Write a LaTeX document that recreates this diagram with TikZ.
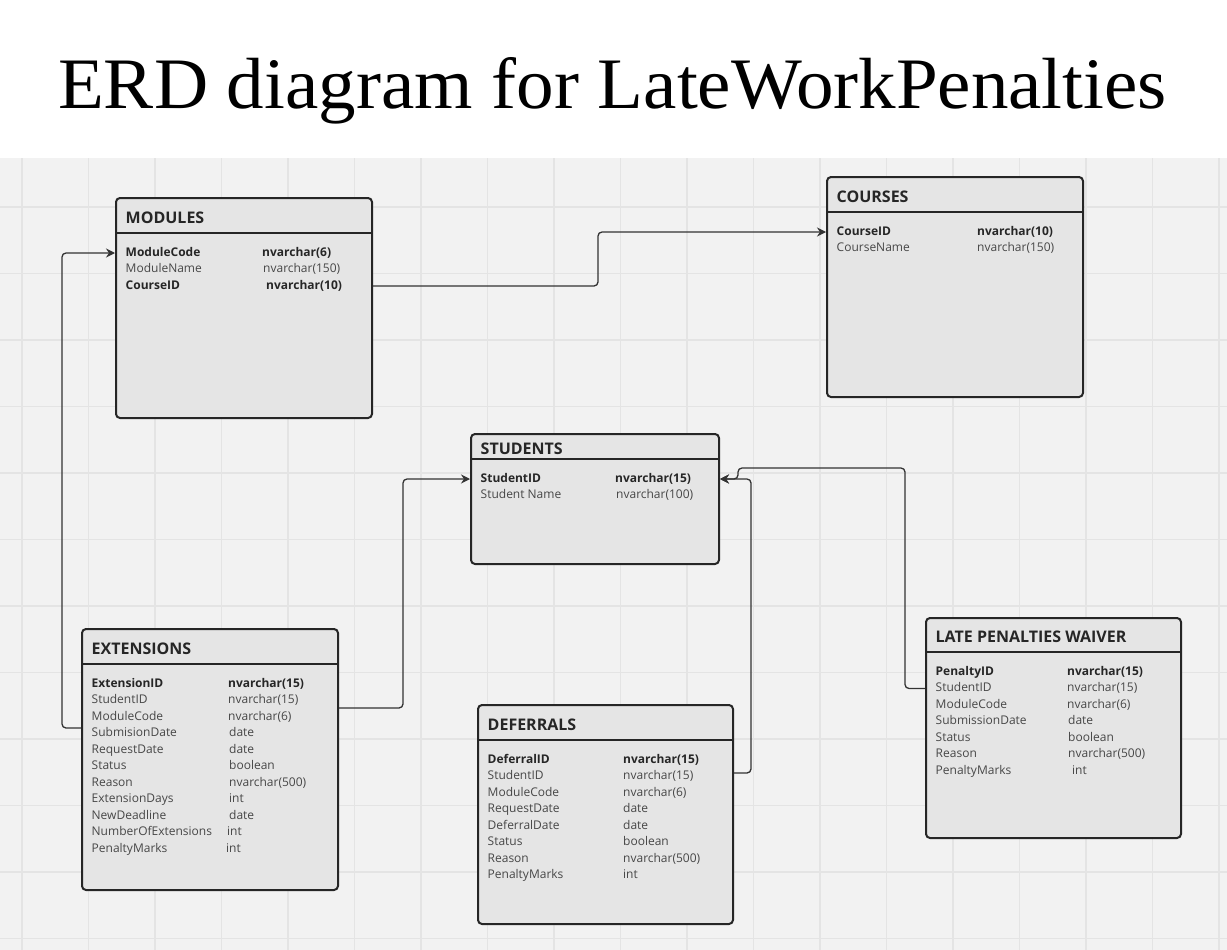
\documentclass[tikz,border=0pt]{standalone}
\usepackage{graphicx}
\usepackage{fontspec}
\setmainfont{Open Sans}
\newfontfamily\titlefont{Liberation Serif}
\usetikzlibrary{arrows.meta}
\definecolor{bgc}{HTML}{F2F2F2}
\definecolor{gridc}{HTML}{E4E4E4}
\definecolor{boxfill}{HTML}{E5E5E5}
\definecolor{boxline}{HTML}{262626}
\definecolor{boldc}{HTML}{262626}
\definecolor{regc}{HTML}{474747}
\definecolor{connc}{HTML}{333333}
\tikzset{
 tbl/.style={draw=boxline, line width=2pt, rounded corners=4pt, fill=boxfill, inner sep=0pt, anchor=north west},
 hdr/.style={draw=boxline, line width=2pt},
 ttl/.style={anchor=west, inner sep=0pt, text=boldc, font=\fontsize{16}{18}\selectfont\bfseries},
 fb/.style={anchor=west, inner sep=0pt, text=boldc, font=\fontsize{12}{14}\selectfont\bfseries, text height=9pt, text depth=3pt},
 fr/.style={anchor=west, inner sep=0pt, text=regc, font=\fontsize{12}{14}\selectfont, text height=9pt, text depth=3pt},
 conn/.style={draw=connc, line width=1.3pt, rounded corners=4pt, -{Stealth[length=9pt,width=9pt,inset=3pt]}},
 gridline/.style={draw=gridc, line width=1.5pt},
}
% #1 name, #2 left, #3 top, #4 width, #5 height, #6 header height, #7 title, #8 rows
\newcommand\erdtable[8]{%
 \node[tbl, minimum width=#4pt, minimum height=#5pt] (#1) at (#2,#3) {};
 \draw[hdr] ([yshift=-#6pt]#1.north west) -- ([yshift=-#6pt]#1.north east);
 \node[ttl] (#1-title) at ({#2+10.5},{#3+#6/2+2.5}) {#7};
 \foreach \fn/\ft/\fx/\fs [count=\i] in {#8} {
   \node[style=\fs] (#1-n\i) at ({#2+10.5},{#3+#6+20+(\i-1)*16.5}) {\fn};
   \node[style=\fs] (#1-t\i) at (\fx,{#3+#6+20+(\i-1)*16.5}) {\ft};
 }
}
\begin{document}
\begin{tikzpicture}[x=1pt,y=-1pt]
\useasboundingbox (0,0) rectangle (1227,950);
\fill[white] (0,0) rectangle (1227,158);
\fill[bgc] (0,158) rectangle (1227,950);
\foreach \k in {0,...,18} \draw[gridline] ({22+66.5*\k},158) -- ({22+66.5*\k},950);
\foreach \k in {0,...,11} \draw[gridline] (0,{207+66.5*\k}) -- (1227,{207+66.5*\k});

\node[anchor=base, inner sep=0pt] (title) at (612.5,108) {\scalebox{1.035}[1]{\titlefont\fontsize{72.5}{80}\selectfont ERD diagram for LateWorkPenalties}};

\erdtable{mod}{115}{197}{256}{220}{36}{MODULES}{ModuleCode/nvarchar(6)/262/fb, ModuleName/nvarchar(150)/263/fr, CourseID/nvarchar(10)/266/fb}
\erdtable{crs}{826}{176}{256}{220}{36}{COURSES}{CourseID/nvarchar(10)/977/fb, CourseName/nvarchar(150)/977/fr}
\erdtable{stu}{470}{433}{248}{130}{26}{STUDENTS}{StudentID/nvarchar(15)/615/fb, Student Name/nvarchar(100)/616/fr}
\erdtable{ext}{81}{628}{256}{261}{36}{EXTENSIONS}{ExtensionID/nvarchar(15)/228/fb, StudentID/nvarchar(15)/228/fr, ModuleCode/nvarchar(6)/228/fr, SubmisionDate/date/229/fr, RequestDate/date/229/fr, Status/boolean/229/fr, Reason/nvarchar(500)/229/fr, ExtensionDays/int/229/fr, NewDeadline/date/229/fr, NumberOfExtensions/int/227/fr, PenaltyMarks/int/226/fr}
\erdtable{def}{477}{704}{255}{219}{36}{DEFERRALS}{DeferralID/nvarchar(15)/623/fb, StudentID/nvarchar(15)/623/fr, ModuleCode/nvarchar(6)/623/fr, RequestDate/date/623/fr, DeferralDate/date/623/fr, Status/boolean/623/fr, Reason/nvarchar(500)/623/fr, PenaltyMarks/int/623/fr}
\erdtable{lpw}{925}{617}{255}{220}{35}{LATE PENALTIES WAIVER}{PenaltyID/nvarchar(15)/1067/fb, StudentID/nvarchar(15)/1067/fr, ModuleCode/nvarchar(6)/1067/fr, SubmissionDate/date/1068/fr, Status/boolean/1068/fr, Reason/nvarchar(500)/1068/fr, PenaltyMarks/int/1072/fr}

\coordinate (xa) at (598,0);
\coordinate (xb) at (62,0);
\coordinate (xc) at (403,0);
\coordinate (xd) at (751,0);
\coordinate (xe) at (905,0);
\coordinate (xf) at (738,0);
\coordinate (ya) at (0,728);
\coordinate (yb) at (0,708);
\coordinate (yc) at (0,773);
\coordinate (yd) at (0,468);

\draw[conn] (mod.east |- mod-n3) -| (xa |- crs-n1) -- (crs.west |- crs-n1);
\draw[conn] (ext.west |- ya) -| (xb |- mod-n1) -- (mod.west |- mod-n1);
\draw[conn] (ext.east |- yb) -| (xc |- stu-n1) -- (stu.west |- stu-n1);
\draw[conn] (def.east |- yc) -| (xd |- stu-n1) -- (stu.east |- stu-n1);
\draw[conn] (lpw.west |- lpw-n2) -| (xe |- yd) -| (xf |- stu-n1) -- (stu.east |- stu-n1);
\end{tikzpicture}
\end{document}
